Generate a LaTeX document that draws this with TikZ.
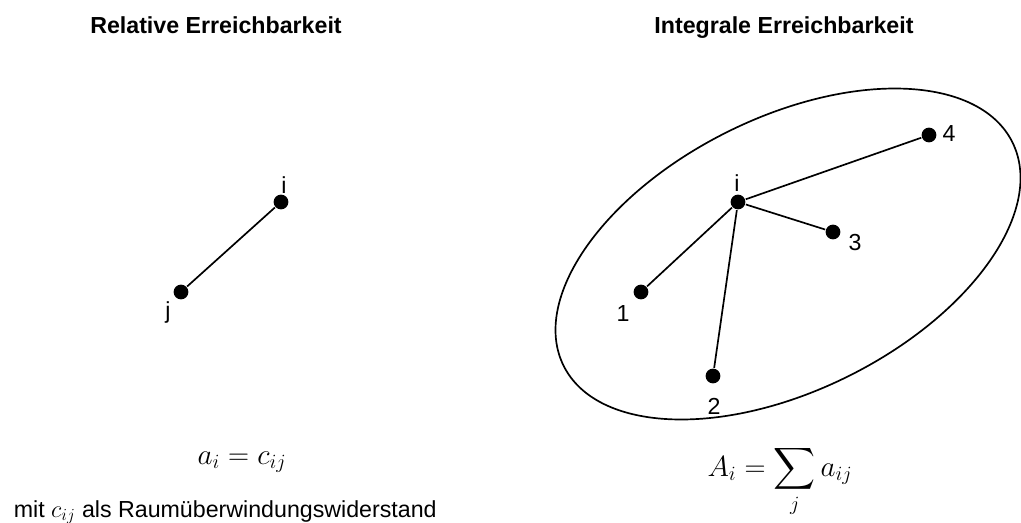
\documentclass[tikz,border=0pt]{standalone}
\usepackage{amsmath}
\usepackage{fontspec}
\setmainfont{Liberation Sans}
\usetikzlibrary{positioning}

\tikzset{
    punkt/.style={circle,fill=black,inner sep=0pt,minimum size=10.5pt},
    beschr/.style={inner sep=0pt,font=\fontsize{16.5}{19}\selectfont},
    formel/.style={inner sep=0pt,font=\fontsize{20}{24}\selectfont},
    titel/.style={inner sep=0pt,anchor=base,font=\fontsize{16.5}{19}\selectfont\bfseries},
}

\begin{document}
\begin{tikzpicture}[x=0.025cm,y=-0.025cm,line width=1.2pt]
        \useasboundingbox (0,0) rectangle (1021,522);

        % relative Erreichbarkeit
        \node[titel] (tl) at (216,33) {Relative Erreichbarkeit};
        \node[punkt] (li) at (281,202) {};
        \node[punkt] (lj) at (181,292) {};
        \node[beschr] (lil) at (284,185) {i};
        \node[beschr] (ljl) at (168,312) {j};
        \draw (li) -- (lj);
        \node[formel] (fl) at (242,462) {\(a_i = c_{ij}\)};
        \node[beschr,anchor=base west] (ml) at (13,517) {mit \(c_{ij}\) als Raumüberwindungswiderstand};

        % integrale Erreichbarkeit
        \begin{scope}
            \node[titel] (tr) at (784,33) {Integrale Erreichbarkeit};
            \draw (788,254) ellipse [x radius=250.7,y radius=136.3,rotate=26.5];
            \node[punkt] (ri) at (738,202) {};
            \node[beschr] (ril) at (737,183) {i};
            \foreach \n/\x/\y/\lx/\ly in {1/641/292/623/314,2/713/376/714/406,3/833/232/855/243,4/929/135/949/134} {
                \node[punkt] (r\n) at (\x,\y) {};
                \node[beschr] (r\n l) at (\lx,\ly) {\n};
                \draw (ri) -- (r\n);
            }
            \node[formel,anchor=base] (fr) at (780,476) {\(\displaystyle A_i = \sum_j a_{ij}\)};
        \end{scope}
    \end{tikzpicture}
\end{document}
